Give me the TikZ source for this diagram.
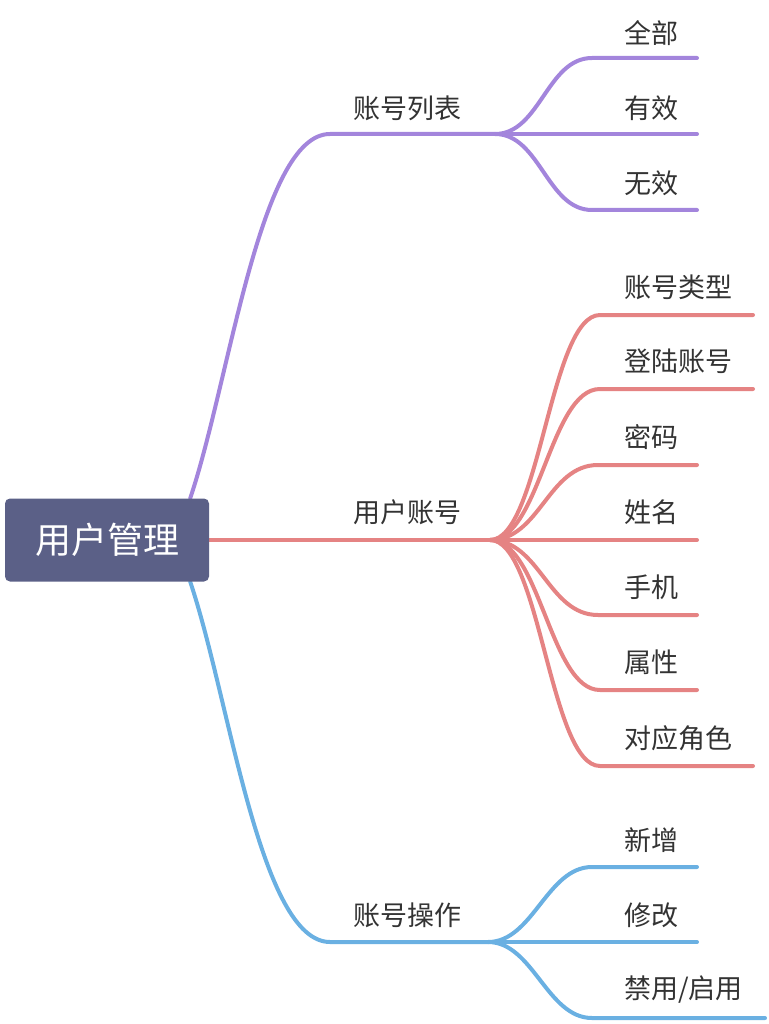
\documentclass[tikz,border=0pt]{standalone}
\usepackage{fontspec}
\setmainfont{Noto Sans CJK SC}
\definecolor{rootblue}{RGB}{91,96,135}
\definecolor{listpurple}{RGB}{163,133,220}
\definecolor{acctred}{RGB}{229,131,131}
\definecolor{opsblue}{RGB}{106,176,226}
\definecolor{darktext}{RGB}{51,51,51}
\usetikzlibrary{backgrounds}

\begin{document}
\begin{tikzpicture}[
  x=1pt, y=-1pt,
  rootbox/.style={rectangle, fill=rootblue, rounded corners=5pt, minimum width=204pt, minimum height=83pt, text=white, font=\fontsize{36}{40}\selectfont},
  topic/.style={anchor=west, inner sep=0pt, font=\fontsize{27}{30}\selectfont, text=darktext},
  branch/.style={line width=4pt, line cap=round}
]
  \useasboundingbox (0,0) rectangle (768,1024);

  \node[rootbox] (root) at (107,540) {用户管理};

  % main topics
  \node[topic] (list) at (353,108) {账号列表};
  \node[topic] (acct) at (353,512) {用户账号};
  \node[topic] (ops) at (353,915) {账号操作};

  % sub topics of the list
  \node[topic] (all) at (624,33) {全部};
  \node[topic] (valid) at (624,108) {有效};
  \node[topic] (invalid) at (624,183) {无效};

  % sub topics of the account
  \node[topic] (type) at (624,287) {账号类型};
  \node[topic] (login) at (624,361) {登陆账号};
  \node[topic] (pwd) at (624,437) {密码};
  \node[topic] (name) at (624,512) {姓名};
  \node[topic] (phone) at (624,587) {手机};
  \node[topic] (attr) at (624,662) {属性};
  \node[topic] (role) at (624,738) {对应角色};

  % sub topics of the operations
  \node[topic] (add) at (624,840) {新增};
  \node[topic] (edit) at (624,915) {修改};
  \node[topic] (toggle) at (624,990) {禁用/启用};

  % split points and line ends
  \coordinate (listsplit) at (495,134);
  \coordinate (acctsplit) at (490,540);
  \coordinate (opssplit) at (488,942);

  \coordinate (allend) at (697,58);
  \coordinate (validend) at (697,134);
  \coordinate (invalidend) at (697,210);
  \coordinate (typeend) at (753,315);
  \coordinate (loginend) at (753,389);
  \coordinate (pwdend) at (697,465);
  \coordinate (nameend) at (697,540);
  \coordinate (phoneend) at (697,615);
  \coordinate (attrend) at (697,690);
  \coordinate (roleend) at (753,766);
  \coordinate (addend) at (697,867);
  \coordinate (editend) at (697,942);
  \coordinate (toggleend) at (765,1018);

  \begin{scope}[on background layer]
    % main branches
    \draw[branch, listpurple] ([xshift=-19pt]root.north east) .. controls (230,380) and (260,134) .. (330,134) -- (listsplit);
    \draw[branch, acctred] (root.east) -- (acctsplit);
    \draw[branch, opsblue] ([xshift=-19pt]root.south east) .. controls (230,700) and (260,942) .. (330,942) -- (opssplit);

    % list branches
    \draw[branch, listpurple] (listsplit) .. controls +(45,0) and +(-45,0) .. (592,58) -- (allend);
    \draw[branch, listpurple] (listsplit) -- (validend);
    \draw[branch, listpurple] (listsplit) .. controls +(45,0) and +(-45,0) .. (592,210) -- (invalidend);

    % account branches
    \draw[branch, acctred] (acctsplit) .. controls +(50,0) and +(-50,0) .. (600,315) -- (typeend);
    \draw[branch, acctred] (acctsplit) .. controls +(50,0) and +(-50,0) .. (600,389) -- (loginend);
    \draw[branch, acctred] (acctsplit) .. controls +(50,0) and +(-50,0) .. (598,465) -- (pwdend);
    \draw[branch, acctred] (acctsplit) -- (nameend);
    \draw[branch, acctred] (acctsplit) .. controls +(50,0) and +(-50,0) .. (598,615) -- (phoneend);
    \draw[branch, acctred] (acctsplit) .. controls +(50,0) and +(-50,0) .. (600,690) -- (attrend);
    \draw[branch, acctred] (acctsplit) .. controls +(50,0) and +(-50,0) .. (600,766) -- (roleend);

    % operation branches
    \draw[branch, opsblue] (opssplit) .. controls +(45,0) and +(-45,0) .. (592,867) -- (addend);
    \draw[branch, opsblue] (opssplit) -- (editend);
    \draw[branch, opsblue] (opssplit) .. controls +(45,0) and +(-45,0) .. (592,1018) -- (toggleend);
  \end{scope}
\end{tikzpicture}
\end{document}
